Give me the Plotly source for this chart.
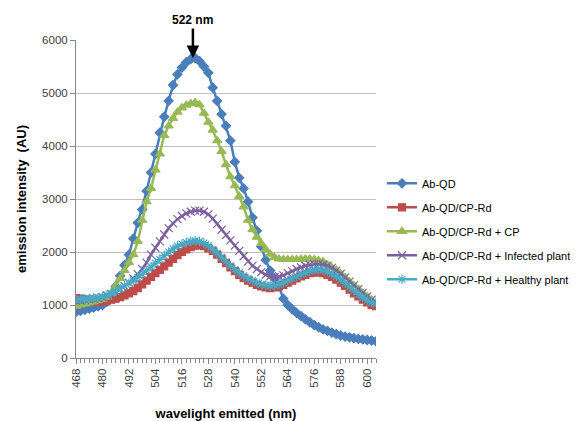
import plotly.graph_objects as go

wavelength = list(range(468, 606, 2))

ab_qd = [870, 890, 910, 930, 950, 975, 1000, 1060, 1150, 1350, 1550, 1750, 1950, 2250,
         2550, 2800, 3150, 3500, 3850, 4250, 4550, 4850, 5150, 5350, 5480, 5580, 5640, 5660,
         5600, 5500, 5380, 5100, 4850, 4600, 4380, 4100, 3700, 3400, 3200, 2950, 2650, 2400,
         2100, 1850, 1650, 1500, 1350, 1120, 1000, 920, 850, 790, 730, 675, 620, 580, 540,
         510, 480, 450, 425, 405, 390, 375, 360, 350, 340, 330, 315]

cp_rd = [1130, 1120, 1100, 1080, 1070, 1060, 1070, 1080, 1100, 1120, 1150, 1180, 1220, 1260,
         1320, 1390, 1460, 1530, 1600, 1660, 1730, 1800, 1870, 1940, 2000, 2050, 2090, 2120,
         2130, 2110, 2070, 2020, 1950, 1870, 1790, 1710, 1640, 1570, 1510, 1460, 1420, 1380,
         1350, 1330, 1320, 1330, 1350, 1380, 1420, 1460, 1500, 1540, 1570, 1600, 1610, 1620,
         1600, 1570, 1530, 1480, 1420, 1360, 1290, 1220, 1160, 1100, 1050, 1000, 980]

cp_rd_cp = [980, 1000, 1020, 1040, 1060, 1080, 1110, 1150, 1220, 1350, 1500, 1650, 1800, 1950,
            2200, 2600, 2950, 3200, 3550, 3850, 4200, 4380, 4520, 4640, 4720, 4770, 4800, 4820,
            4780, 4620, 4450, 4300, 4100, 3900, 3650, 3420, 3250, 3050, 2850, 2600, 2420, 2280,
            2160, 2050, 1960, 1900, 1870, 1860, 1860, 1860, 1860, 1865, 1870, 1870, 1860, 1840,
            1820, 1760, 1710, 1660, 1590, 1520, 1440, 1370, 1300, 1230, 1160, 1100, 1040]

infected = [1080, 1090, 1100, 1110, 1120, 1130, 1150, 1180, 1210, 1250, 1300, 1360, 1420, 1500,
            1580, 1680, 1800, 1950, 2080, 2200, 2330, 2450, 2540, 2620, 2680, 2730, 2760, 2780,
            2780, 2760, 2710, 2630, 2530, 2420, 2320, 2220, 2120, 2020, 1920, 1820, 1740, 1680,
            1620, 1570, 1540, 1530, 1540, 1560, 1600, 1640, 1680, 1710, 1740, 1760, 1770, 1770,
            1760, 1740, 1700, 1650, 1590, 1520, 1440, 1370, 1300, 1230, 1160, 1100, 1050]

healthy = [1100, 1110, 1110, 1120, 1130, 1140, 1160, 1190, 1220, 1260, 1310, 1360, 1410, 1460,
           1520, 1580, 1650, 1720, 1790, 1860, 1930, 2000, 2060, 2110, 2150, 2180, 2200, 2210,
           2200, 2170, 2120, 2050, 1980, 1900, 1820, 1740, 1670, 1610, 1550, 1500, 1460, 1420,
           1390, 1370, 1360, 1370, 1390, 1420, 1460, 1500, 1540, 1580, 1610, 1640, 1660, 1670,
           1660, 1630, 1590, 1540, 1480, 1410, 1340, 1270, 1200, 1140, 1090, 1050, 1020]

series = [
    ("Ab-QD", ab_qd, "#4A7EBB", "diamond", 7),
    ("Ab-QD/CP-Rd", cp_rd, "#BE4B48", "square", 7),
    ("Ab-QD/CP-Rd + CP", cp_rd_cp, "#98B954", "triangle-up", 8),
    ("Ab-QD/CP-Rd + Infected plant", infected, "#7D60A0", "x-thin-open", 8),
    ("Ab-QD/CP-Rd + Healthy plant", healthy, "#46AAC5", "asterisk-open", 8),
]

tick_vals = list(range(468, 601, 12))

fig = go.Figure()
for i, (name, vals, color, sym, size) in enumerate(series):
    fig.add_trace(go.Scatter(
        x=wavelength, y=vals, name=name, mode="lines+markers",
        line=dict(color=color, width=2.5),
        marker=dict(symbol=sym, size=size, color=color,
                    line=dict(color=color, width=1.2)),
        legendgroup=str(i),
    ))

fig.add_annotation(x=521, y=5660, xref="x", yref="y", text="<b>522 nm</b>",
                   showarrow=True, arrowhead=2, arrowsize=1, arrowwidth=2.5,
                   arrowcolor="black", ax=0, ay=-38,
                   font=dict(family="Liberation Sans", size=12, color="black"))

fig.update_layout(
    width=570, height=413,
    margin=dict(l=68, r=202, t=32, b=63, autoexpand=False),
    paper_bgcolor="white", plot_bgcolor="white",
    font=dict(family="Liberation Sans", size=11, color="#404040"),
    showlegend=True,
    legend=dict(x=1.02, y=0.595, xanchor="left", yanchor="top",
                traceorder="grouped", tracegroupgap=5,
                font=dict(family="Liberation Sans", size=11, color="black"),
                itemwidth=30),
    xaxis=dict(range=[468, 604], tickmode="array", tickvals=tick_vals,
               ticktext=[str(v) for v in tick_vals], tickangle=-90,
               showgrid=False, showline=True, linecolor="#868686", linewidth=1,
               ticks="outside", ticklen=5, tickcolor="#868686", automargin=False,
               tickfont=dict(size=11.5),
               minor=dict(dtick=2, tick0=468, ticks="outside", ticklen=4,
                          tickcolor="#868686", showgrid=False),
               title=dict(text="<b>wavelight emitted (nm)</b>",
                          font=dict(size=13, color="black"), standoff=29),
               zeroline=False),
    yaxis=dict(range=[0, 6000], dtick=1000, showgrid=True, gridcolor="#BFBFBF",
               gridwidth=1, showline=True, linecolor="#868686", linewidth=1,
               ticks="outside", ticklen=5, tickcolor="#868686", automargin=False,
               tickfont=dict(size=11.5),
               title=dict(text="<b>emission intensity  (AU)</b>",
                          font=dict(size=13, color="black"), standoff=12),
               zeroline=False),
)

fig.write_html("out.html")
